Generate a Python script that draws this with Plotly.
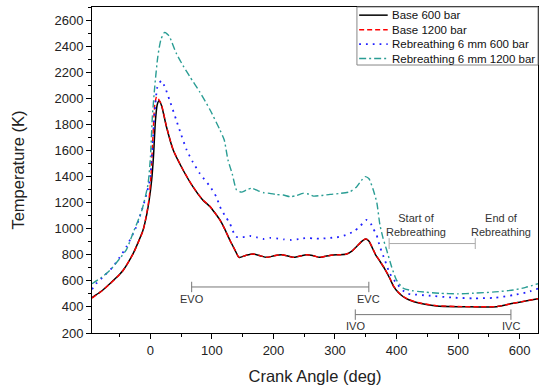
import plotly.graph_objects as go

# Crank angle (deg) and in-cylinder temperature (K) for each case
base600_deg = [-95, -80, -66, -50, -44, -28, -20, -12, -6, -2, 2, 5, 8, 11, 14, 18, 26, 37, 53,
               69, 85, 97, 105, 113, 121, 129, 137, 144, 155, 167, 178, 189, 201, 213, 222, 232,
               243, 254, 265, 275, 286, 297, 308, 319, 328, 335, 344, 350, 355, 359, 366, 373,
               381, 389, 395, 403, 411, 420, 438, 465, 500, 535, 563, 590, 610, 630]
base600_T = [472, 520, 578, 650, 683, 811, 895, 990, 1110, 1220, 1373, 1560, 1820, 1950, 1981, 1945,
             1782, 1603, 1450, 1322, 1220, 1169, 1120, 1067, 995, 913, 840, 780, 795, 806, 793,
             780, 792, 800, 792, 780, 790, 800, 792, 780, 790, 798, 800, 806, 830, 862, 905, 921,
             905, 870, 800, 750, 690, 620, 560, 510, 478, 455, 428, 408, 402, 400, 402, 428, 445, 462]

base1200_deg = [-95, -80, -66, -50, -44, -28, -20, -12, -6, -2, 1, 4, 7, 10, 13, 18, 26, 37, 53,
                69, 85, 97, 105, 113, 121, 129, 137, 144, 155, 167, 178, 189, 201, 213, 222, 232,
                243, 254, 265, 275, 286, 297, 308, 319, 328, 335, 344, 350, 355, 359, 366, 373,
                381, 389, 395, 403, 411, 420, 438, 465, 500, 535, 563, 590, 610, 630]
base1200_T = [468, 518, 576, 648, 683, 808, 893, 985, 1120, 1240, 1420, 1700, 1950, 2012, 1995, 1950,
              1785, 1605, 1452, 1322, 1222, 1170, 1120, 1066, 995, 912, 840, 780, 795, 806, 793,
              780, 792, 800, 792, 780, 790, 800, 792, 780, 790, 798, 800, 806, 830, 862, 905, 922,
              906, 872, 802, 752, 692, 622, 562, 512, 480, 456, 430, 410, 403, 401, 403, 428, 446, 463]

reb600_deg = [-95, -88, -75, -61, -50, -39, -23, -9, -1, 3, 7, 11, 15, 18, 24, 31, 42, 50, 59, 69,
              80, 97, 107, 113, 121, 129, 139, 150, 162, 172, 183, 194, 205, 217, 229, 241, 254,
              265, 275, 289, 303, 317, 330, 341, 351, 357, 362, 367, 373, 381, 389, 400, 416, 430,
              449, 490, 525, 560, 590, 610, 630]
reb600_T = [535, 580, 640, 708, 780, 862, 1015, 1220, 1373, 1600, 1900, 2080, 2120, 2135, 2080, 1987,
            1833, 1720, 1603, 1510, 1425, 1322, 1245, 1169, 1100, 1041, 938, 935, 944, 935, 921,
            930, 926, 918, 913, 920, 928, 925, 923, 928, 934, 950, 977, 1020, 1067, 1050, 1000,
            960, 862, 760, 658, 581, 505, 495, 488, 472, 466, 470, 491, 510, 540]

reb1200_deg = [-95, -80, -66, -50, -39, -28, -14, -4, 0, 3, 7, 12, 17, 23, 30, 42, 53, 64, 80, 97,
               113, 120, 126, 133, 140, 148, 156, 165, 175, 185, 194, 205, 216, 227, 238, 248, 258,
               265, 278, 292, 308, 324, 335, 343, 349, 355, 362, 368, 373, 378, 384, 392, 400, 411,
               425, 438, 470, 500, 525, 560, 590, 610, 630]
reb1200_T = [578, 625, 680, 770, 840, 970, 1140, 1340, 1550, 1850, 2090, 2320, 2450, 2505, 2480, 2345,
             2250, 2166, 2050, 1910, 1757, 1680, 1527, 1420, 1297, 1280, 1297, 1310, 1290, 1275,
             1271, 1262, 1258, 1245, 1255, 1271, 1265, 1250, 1255, 1263, 1270, 1283, 1320, 1370,
             1399, 1385, 1300, 1200, 1030, 930, 836, 708, 606, 543, 525, 517, 505, 500, 505, 515,
             530, 550, 578]

# Valve events and rebreathing window (deg) with the temperature level of each marker bar (K)
evo_evc = [67, 355]
evo_level = 553
ivo_ivc = [333, 586]
ivo_level = 341
rebreathing = [388, 528]
rebreathing_level = 886

FONT = "Arial, Liberation Sans, sans-serif"

fig = go.Figure()
series = [
    ("Base 600 bar", base600_deg, base600_T, "#000000", "solid", 1.5),
    ("Base 1200 bar", base1200_deg, base1200_T, "#ff0000", "5px,3px", 1.4),
    ("Rebreathing 6 mm 600 bar", reb600_deg, reb600_T, "#2020ff", "1.8px,5px", 1.8),
    ("Rebreathing 6 mm 1200 bar", reb1200_deg, reb1200_T, "#2a9d94", "7px,3px,2px,3px", 1.4),
]
for name, x, y, color, dash, w in series:
    fig.add_trace(go.Scatter(x=x, y=y, mode="lines", name=name, showlegend=False,
                             line=dict(color=color, dash=dash, width=w, shape="spline",
                                       smoothing=0.6)))

# Compact key in the upper-right corner of the plot frame
key_x0, key_x1, key_y0, key_y1 = 0.594, 1.0, 0.822, 1.0
fig.add_shape(type="rect", xref="paper", yref="paper", x0=key_x0, x1=key_x1,
              y0=key_y0, y1=key_y1, line=dict(color="#888888", width=1), fillcolor="white")
key_rows = [0.975, 0.930, 0.886, 0.842]
for (name, _, _, color, dash, w), ky in zip(series, key_rows):
    fig.add_shape(type="line", xref="paper", yref="paper", x0=0.599, x1=0.663, y0=ky, y1=ky,
                  line=dict(color=color, dash=dash, width=w))
    fig.add_annotation(xref="paper", yref="paper", x=0.668, y=ky, xanchor="left",
                       yanchor="middle", text=name, showarrow=False,
                       font=dict(family=FONT, size=11.5, color="#111111"))

def bracket(x0, x1, level, color, cap):
    fig.add_shape(type="line", x0=x0, x1=x1, y0=level, y1=level,
                  line=dict(color=color, width=1))
    for xv in (x0, x1):
        fig.add_shape(type="line", x0=xv, x1=xv, y0=level - cap, y1=level + cap,
                      line=dict(color=color, width=1))

bracket(evo_evc[0], evo_evc[1], evo_level, "#777777", 40)
bracket(ivo_ivc[0], ivo_ivc[1], ivo_level, "#777777", 40)
bracket(rebreathing[0], rebreathing[1], rebreathing_level, "#aaaaaa", 42)

def label(x, y, text):
    fig.add_annotation(x=x, y=y, text=text, showarrow=False,
                       font=dict(family=FONT, size=11, color="#333333"))

label(evo_evc[0], 459, "EVO")
label(evo_evc[1], 459, "EVC")
label(ivo_ivc[0], 251, "IVO")
label(ivo_ivc[1], 251, "IVC")
label(431, 1030, "Start of<br>Rebreathing")
label(570, 1030, "End of<br>Rebreathing")

fig.update_layout(
    width=540, height=388,
    margin=dict(l=92, r=2, t=7, b=55),
    paper_bgcolor="white", plot_bgcolor="white",
    font=dict(family=FONT, color="#222222"),
    showlegend=False,
    xaxis=dict(range=[-95, 630], tickvals=[0, 100, 200, 300, 400, 500, 600],
               ticks="outside", ticklen=5, tickwidth=1, tickcolor="#000",
               minor=dict(dtick=50, tick0=0, ticks="outside", ticklen=3, tickcolor="#000"),
               showline=True, linecolor="#000", linewidth=1, mirror=True,
               showgrid=False, zeroline=False,
               tickfont=dict(family=FONT, size=13, color="#222"),
               title=dict(text="Crank Angle (deg)", font=dict(family=FONT, size=16.5, color="#222"),
                          standoff=13)),
    yaxis=dict(range=[200, 2700], tickvals=list(range(200, 2700, 200)),
               ticks="outside", ticklen=5, tickwidth=1, tickcolor="#000",
               minor=dict(dtick=100, tick0=0, ticks="outside", ticklen=3, tickcolor="#000"),
               showline=True, linecolor="#000", linewidth=1, mirror=True,
               showgrid=False, zeroline=False,
               tickfont=dict(family=FONT, size=13, color="#222"),
               title=dict(text="Temperature (K)", font=dict(family=FONT, size=16.5, color="#222"),
                          standoff=25)),
)

fig.write_html("out.html")
